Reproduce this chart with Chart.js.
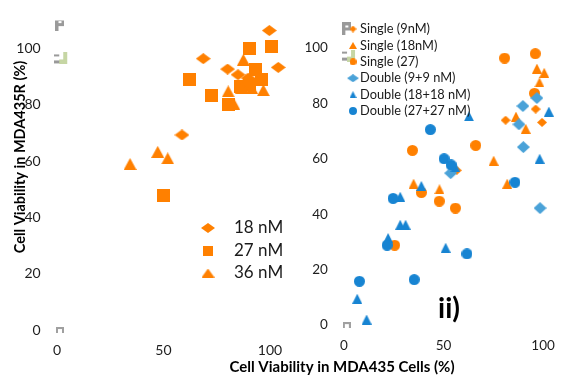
<!DOCTYPE html>
<html>
<head>
<meta charset="utf-8">
<script src="https://cdn.jsdelivr.net/npm/chart.js@4/dist/chart.umd.min.js"></script>
<style>
  html, body { margin: 0; padding: 0; background: #fff; }
  #wrap { position: relative; width: 561px; height: 377px; }
  #wrap canvas { position: absolute; left: 0; top: 0; }
</style>
</head>
<body>
<div id="wrap">
  <canvas id="leftChart" width="561" height="377"></canvas>
  <canvas id="rightChart" width="561" height="377"></canvas>
</div>
<script>
const xTicks = [0, 50, 100];
const yTicks = [0, 20, 40, 60, 80, 100];

// left panel: MDA435R vs MDA435, [x, y]
const left18 = [[99.7,106.4],[68.7,96.4],[103.9,93.3],[80.1,92.7],[58.7,69.3],[85,90.7],[89.8,89.5]];
const left27 = [[100.8,100.7],[90.3,99.9],[62.4,88.9],[72.6,83.4],[80.4,80.1],[93,92.5],[96.1,88.9],[86,86.6],[90.6,87.2],[50,47.7]];
const left36 = [[34.3,59],[47.3,63.3],[52,61],[87.5,96],[96.9,85.2],[80.4,84.8],[83,80.4],[86.7,86],[91.4,86]];
const leftLabels = ['18 nM', '27 nM', '36 nM'];

// right panel: single vs double treatment
const single9 = [[81.2,73.9],[96.3,77.9],[99.5,73.1],[56.7,55.8]];
const single18 = [[96.9,92.5],[100.6,91],[98.2,87.5],[86.4,75.2],[91.3,70.8],[75.2,59.3],[35,51],[48,49],[82,51]];
const single27 = [[80.7,96.3],[96.1,97.9],[95.7,83.6],[34.4,63],[66.2,64.8],[38.9,47.8],[47.9,44.7],[56,42.2],[25.5,28.8]];
const double9 = [[89.9,79],[96.9,81.9],[87.9,72.4],[90.1,64.2],[98.5,42.2],[53.6,54.8]];
const double18 = [[102.9,77],[62.8,75.3],[98.3,60],[56,56.9],[38.9,50.2],[28.3,46.3],[28.3,36.2],[31,36.2],[22.2,31.4],[51.1,27.9],[6.7,9.5],[11.4,2]];
const double27 = [[43.4,70.5],[50.3,60],[53.8,57.8],[85.9,51.5],[24.7,45.7],[21.7,28.8],[61.8,25.7],[7.8,15.8],[35.3,16.4]];
const rightLabels = ['Single (9nM)', 'Single (18nM)', 'Single (27)', 'Double (9+9 nM)', 'Double (18+18 nM)', 'Double (27+27 nM)'];

// stray grey marks near the y axis
const leftStray = [[1.4,108.5],[2,96.5],[1.4,0]];
const rightStray = [[1.5,106.8],[2.6,97.2],[1.5,0]];

const ORANGE = '#FF8000';
const BLUE = '#1784D2';
const LIGHTBLUE = '#4AA2D8';
const FONT = 'Lato, "Open Sans", sans-serif';

function marker(w, h, draw) {
  const c = document.createElement('canvas');
  c.width = w; c.height = h;
  const g = c.getContext('2d');
  draw(g, w, h);
  return c;
}
function shape(w, h, color, path) {
  return marker(w, h, (g) => { g.fillStyle = color; g.beginPath(); path(g, w, h); g.fill(); });
}
const diamond = (w, h, color) => shape(w, h, color, (g, w, h) => { g.moveTo(w/2,0); g.lineTo(w,h/2); g.lineTo(w/2,h); g.lineTo(0,h/2); g.closePath(); });
const square = (w, h, color) => shape(w, h, color, (g, w, h) => g.rect(0, 0, w, h));
const triangle = (w, h, color) => shape(w, h, color, (g, w, h) => { g.moveTo(w/2,0); g.lineTo(w,h); g.lineTo(0,h); g.closePath(); });
const circle = (d, color) => shape(d, d, color, (g, w) => g.arc(w/2, w/2, w/2, 0, Math.PI * 2));

const pMark = marker(9, 13, (g) => {
  g.fillStyle = '#9a9a9a';
  g.fillRect(0, 0, 3, 13); g.fillRect(0, 0, 9, 3); g.fillRect(6, 0, 3, 7); g.fillRect(0, 5, 9, 3);
});
const greenMark = marker(14, 12, (g) => {
  g.fillStyle = '#9a9a9a';
  g.fillRect(0, 2, 5, 2); g.fillRect(0, 8, 5, 3);
  g.fillStyle = '#c6d6a4';
  g.fillRect(9, 0, 4, 12); g.fillRect(5, 7, 8, 5);
});
const nMark = marker(8, 6, (g) => {
  g.fillStyle = '#a0a0a0';
  g.fillRect(0, 0, 8, 6);
  g.clearRect(2, 2, 4, 4);
});

const toPts = arr => arr.map(p => ({ x: p[0], y: p[1] }));

function scales(xMin, xMax, yMin, yMax, yWidth, xHeight, size) {
  const tickFont = { family: FONT, size: size };
  return {
    x: {
      type: 'linear', min: xMin, max: xMax,
      grid: { display: false, drawTicks: false }, border: { display: false },
      afterBuildTicks: s => { s.ticks = xTicks.map(v => ({ value: v })); },
      afterFit: s => { s.height = xHeight; },
      ticks: { font: tickFont, color: '#1e1e1e', padding: 4, maxRotation: 0 }
    },
    y: {
      type: 'linear', min: yMin, max: yMax,
      grid: { display: false, drawTicks: false }, border: { display: false },
      afterBuildTicks: s => { s.ticks = yTicks.map(v => ({ value: v })); },
      afterFit: s => { s.width = yWidth; },
      ticks: { font: tickFont, color: '#1e1e1e', padding: 12 }
    }
  };
}

const softEdges = {
  id: 'softEdges',
  beforeDatasetsDraw(chart) { chart.ctx.save(); chart.ctx.filter = 'blur(0.7px)'; },
  afterDatasetsDraw(chart) { chart.ctx.restore(); }
};

// legend drawn inside the plot, using each dataset's own marker
const pointLegend = {
  id: 'pointLegend',
  afterDraw(chart, args, opts) {
    const ctx = chart.ctx;
    ctx.save();
    ctx.font = opts.font;
    ctx.fillStyle = '#1a1a1a';
    ctx.textBaseline = 'middle';
    ctx.textAlign = 'left';
    opts.labels.forEach((label, i) => {
      const y = opts.y + i * opts.gap;
      ctx.drawImage(opts.markers[i], opts.x - opts.markers[i].width / 2, y - opts.markers[i].height / 2);
      ctx.fillText(label, opts.textX, y);
    });
    ctx.restore();
  }
};

const freeText = {
  id: 'freeText',
  afterDraw(chart, args, opts) {
    const ctx = chart.ctx;
    (opts.items || []).forEach(t => {
      ctx.save();
      ctx.font = t.font;
      ctx.fillStyle = '#000';
      ctx.textAlign = 'center';
      ctx.textBaseline = 'middle';
      ctx.translate(t.x, t.y);
      if (t.rotate) ctx.rotate(t.rotate);
      ctx.fillText(t.text, 0, 0);
      ctx.restore();
    });
  }
};

function ds(label, arr, style, i) {
  return { label: label, data: toPts(arr), pointStyle: style, pointRadius: 5, pointHoverRadius: 5, order: -i, showLine: false };
}

const leftMarkers = [diamond(15, 11, ORANGE), square(13, 13, ORANGE), triangle(13, 12, ORANGE)];
const strayStyles = [pMark, greenMark, nMark];

new Chart(document.getElementById('leftChart'), {
  type: 'scatter',
  data: {
    datasets: [
      { label: 'stray', data: toPts(leftStray), pointStyle: strayStyles, pointRadius: 5, order: 10 },
      ds(leftLabels[0], left18, leftMarkers[0], 0),
      ds(leftLabels[1], left27, leftMarkers[1], 1),
      ds(leftLabels[2], left36, leftMarkers[2], 2)
    ]
  },
  options: {
    responsive: false,
    animation: false,
    events: [],
    layout: { padding: { left: 0, top: 18.7, right: 274, bottom: 0 } },
    scales: scales(-2, 108, -3, 110, 52.7, 38.5, 14),
    plugins: {
      legend: { display: false },
      tooltip: { enabled: false },
      pointLegend: {
        labels: leftLabels,
        markers: [diamond(14, 10, ORANGE), square(10, 10, ORANGE), triangle(13, 9, ORANGE)],
        x: 208, textX: 234, y: 228, gap: 22.5,
        font: '17px ' + FONT
      },
      freeText: {
        items: [
          { text: 'Cell Viability in MDA435R (%)', x: 20, y: 157, rotate: -Math.PI / 2, font: 'bold 14.5px ' + FONT }
        ]
      }
    }
  },
  plugins: [softEdges, pointLegend, freeText]
});

const rightMarkers = [
  diamond(10, 9, ORANGE), triangle(10, 10, ORANGE), circle(11, ORANGE),
  diamond(13, 12, LIGHTBLUE), triangle(10, 10, BLUE), circle(11, BLUE)
];
const rightSeries = [single9, single18, single27, double9, double18, double27];

new Chart(document.getElementById('rightChart'), {
  type: 'scatter',
  data: {
    datasets: [{ label: 'stray', data: toPts(rightStray), pointStyle: strayStyles, pointRadius: 5, order: 10 }]
      .concat(rightSeries.map((arr, i) => ds(rightLabels[i], arr, rightMarkers[i], i)))
  },
  options: {
    responsive: false,
    animation: false,
    events: [],
    layout: { padding: { left: 299.9, top: 15.9, right: 0.8, bottom: 0 } },
    scales: scales(-2, 106, -3, 110, 40, 43.6, 13.5),
    plugins: {
      legend: { display: false },
      tooltip: { enabled: false },
      pointLegend: {
        labels: rightLabels,
        markers: [diamond(7, 7, ORANGE), triangle(8, 7, ORANGE), circle(7, ORANGE),
                  diamond(12, 8, LIGHTBLUE), triangle(7, 7, BLUE), circle(8, BLUE)],
        x: 353, textX: 360, y: 29, gap: 16.4,
        font: '12.8px ' + FONT
      },
      freeText: {
        items: [
          { text: 'Cell Viability in MDA435 Cells (%)', x: 342, y: 367, font: 'bold 15px ' + FONT },
          { text: 'ii)', x: 449, y: 309, font: 'bold 28px ' + FONT }
        ]
      }
    }
  },
  plugins: [softEdges, pointLegend, freeText]
});
</script>
</body>
</html>
